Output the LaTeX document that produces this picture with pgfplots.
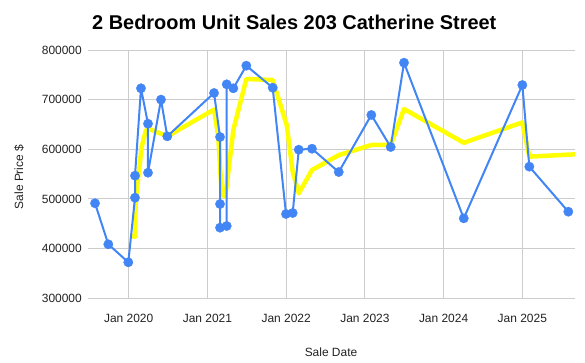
\documentclass[border=0pt]{standalone}
\usepackage{fontspec}
\setmainfont{Liberation Sans}
\usepackage{pgfplots}
\pgfplotsset{compat=1.18}
\definecolor{gblue}{HTML}{4285F4}
\definecolor{gyel}{HTML}{FFFF00}
\definecolor{ggrid}{HTML}{CCCCCC}
\definecolor{gtick}{HTML}{222222}
\begin{document}
\begin{tikzpicture}[x=1bp,y=1bp]
\useasboundingbox (0,0) rectangle (585,362);
\begin{axis}[
  at={(88bp,64bp)}, anchor=south west,
  scale only axis, width=487bp, height=248bp,
  xmin=2019.483, xmax=2025.669, ymin=300000, ymax=800000,
  xtick={2020,2021,2022,2023,2024,2025},
  xticklabels={Jan 2020,Jan 2021,Jan 2022,Jan 2023,Jan 2024,Jan 2025},
  ytick={300000,400000,500000,600000,700000,800000},
  yticklabels={300000,400000,500000,600000,700000,800000},
  scaled y ticks=false, scaled x ticks=false,
  axis line style={draw=none},
  major tick length=0pt,
  grid=major,
  major grid style={draw=ggrid, line width=1bp},
  tick label style={font=\fontsize{12}{14}\selectfont, text=gtick, inner sep=0pt},
  xticklabel style={anchor=base, yshift=-24bp},
  yticklabel style={anchor=base east, xshift=-6bp, yshift=-4.3bp},
  /pgf/number format/assume math mode=true,
]
\addplot[gyel, line width=4.5bp, line join=round, no marks] coordinates {
(2020.017,425600) (2020.080,423600) (2020.089,497600) (2020.122,544600)
(2020.165,605000) (2020.220,638700) (2020.271,640100) (2020.490,626000)
(2021.084,680000) (2021.138,625000) (2021.181,509700) (2021.227,504000)
(2021.329,638700) (2021.494,741500) (2021.829,739500) (2022.007,648800)
(2022.083,554700) (2022.160,511000) (2022.328,558000) (2022.668,588000)
(2023.082,608500) (2023.328,608500) (2023.497,681000) (2024.256,613000)
(2025.000,654000) (2025.089,585000) (2025.669,589700)
};
\addplot[gblue, line width=2bp, line join=round, mark=*, mark size=4.7bp,
  mark options={fill=gblue, draw=gblue, line width=0.3bp}] coordinates {
(2019.572,491000) (2019.741,408300) (2019.995,372000) (2020.080,502200)
(2020.080,546600) (2020.156,722800) (2020.245,651400) (2020.245,552600)
(2020.410,700000) (2020.490,626000) (2021.084,713300) (2021.160,624600)
(2021.160,489500) (2021.160,441800) (2021.245,445200) (2021.245,730800)
(2021.329,722800) (2021.494,768400) (2021.829,724000) (2021.998,469400)
(2022.083,471400) (2022.160,599000) (2022.328,601000) (2022.668,554000)
(2023.082,669000) (2023.328,604400) (2023.497,774400) (2024.256,460600)
(2025.000,729400) (2025.089,564800) (2025.584,474000)
};
\end{axis}
\node[anchor=base west, inner sep=0pt, font=\bfseries\fontsize{20}{24}\selectfont] at (92,333) {2 Bedroom Unit Sales 203 Catherine Street};
\node[anchor=base, inner sep=0pt, font=\fontsize{12}{14}\selectfont, text=gtick] at (331,6) {Sale Date};
\node[anchor=base, inner sep=0pt, rotate=90, font=\fontsize{12}{14}\selectfont, text=gtick] at (23,185) {Sale Price \$};
\end{tikzpicture}
\end{document}
